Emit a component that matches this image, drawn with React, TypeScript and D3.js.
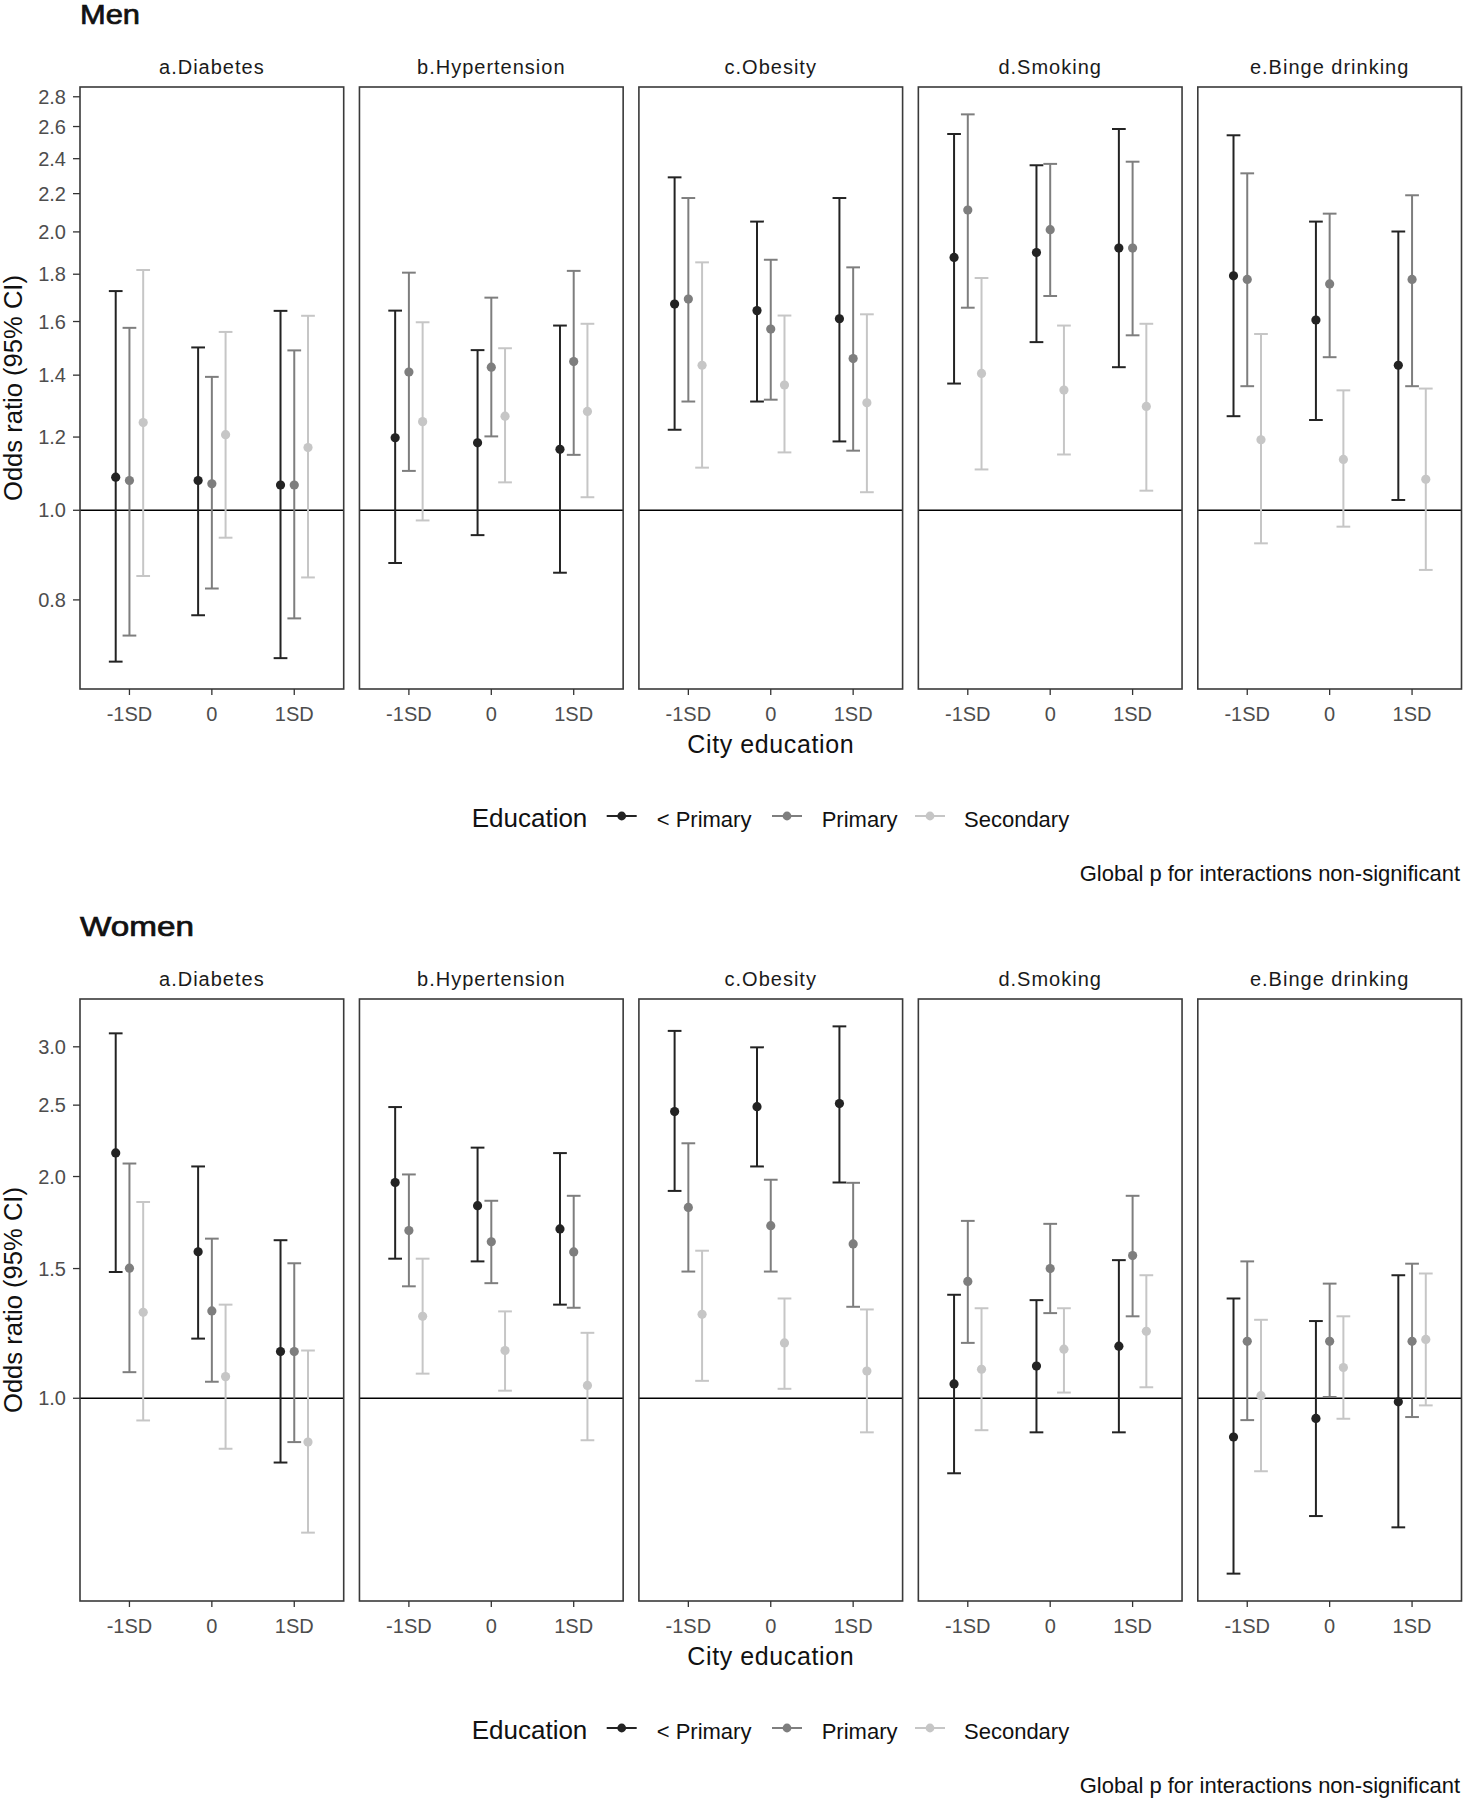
import React from "react";
import * as d3 from "d3";

// ---------- categories ----------
const cityLevels = ["-1SD", "0", "1SD"];
const eduLevels = ["< Primary", "Primary", "Secondary"];
const outcomes = ["a.Diabetes", "b.Hypertension", "c.Obesity", "d.Smoking", "e.Binge drinking"];
const menTicks = [0.8, 1.0, 1.2, 1.4, 1.6, 1.8, 2.0, 2.2, 2.4, 2.6, 2.8];
const womenTicks = [1.0, 1.5, 2.0, 2.5, 3.0];
const captionText = "Global p for interactions non-significant";

// ---------- values: order = outcome x city level (-1SD, 0, 1SD) ----------
// Men, < Primary
const menLowOR = [1.086, 1.077, 1.065, 1.198, 1.183, 1.164, 1.671, 1.644, 1.611, 1.877, 1.900, 1.921, 1.793, 1.606, 1.435];
const menLowLo = [0.686, 0.770, 0.692, 0.877, 0.940, 0.856, 1.222, 1.311, 1.187, 1.371, 1.520, 1.428, 1.264, 1.252, 1.026];
const menLowHi = [1.726, 1.500, 1.643, 1.644, 1.490, 1.584, 2.291, 2.052, 2.176, 2.552, 2.361, 2.584, 2.544, 2.052, 2.002];
// Men, Primary
const menPriOR = [1.077, 1.068, 1.065, 1.411, 1.428, 1.448, 1.692, 1.570, 1.459, 2.112, 2.011, 1.921, 1.777, 1.757, 1.777];
const menPriLo = [0.732, 0.823, 0.764, 1.103, 1.202, 1.148, 1.311, 1.317, 1.160, 1.656, 1.705, 1.546, 1.362, 1.464, 1.362];
const menPriHi = [1.575, 1.394, 1.489, 1.807, 1.698, 1.815, 2.176, 1.866, 1.831, 2.680, 2.369, 2.382, 2.314, 2.093, 2.191];
// Men, Secondary
const menSecOR = [1.244, 1.207, 1.169, 1.247, 1.264, 1.279, 1.435, 1.366, 1.307, 1.406, 1.349, 1.295, 1.192, 1.135, 1.080];
const menSecLo = [0.849, 0.934, 0.846, 0.975, 1.072, 1.033, 1.112, 1.155, 1.046, 1.107, 1.149, 1.050, 0.921, 0.960, 0.862];
const menSecHi = [1.819, 1.559, 1.623, 1.597, 1.497, 1.591, 1.854, 1.624, 1.629, 1.783, 1.584, 1.591, 1.551, 1.348, 1.354];
// Women, < Primary
const womenLowOR = [2.153, 1.581, 1.157, 1.963, 1.826, 1.698, 2.450, 2.488, 2.512, 1.046, 1.106, 1.177, 0.886, 0.939, 0.989];
const womenLowLo = [1.484, 1.205, 0.818, 1.547, 1.534, 1.340, 1.912, 2.064, 1.963, 0.791, 0.899, 0.899, 0.578, 0.692, 0.668];
const womenLowHi = [3.129, 2.064, 1.639, 2.485, 2.189, 2.152, 3.153, 2.995, 3.198, 1.382, 1.359, 1.540, 1.366, 1.273, 1.469];
// Women, Primary
const womenPriOR = [1.502, 1.314, 1.157, 1.689, 1.631, 1.580, 1.816, 1.715, 1.620, 1.441, 1.500, 1.562, 1.195, 1.195, 1.195];
const womenPriLo = [1.085, 1.053, 0.872, 1.419, 1.433, 1.327, 1.486, 1.486, 1.331, 1.189, 1.305, 1.292, 0.934, 1.004, 0.943];
const womenPriHi = [2.083, 1.647, 1.525, 2.013, 1.854, 1.883, 2.219, 1.980, 1.961, 1.741, 1.725, 1.883, 1.534, 1.431, 1.523];
// Women, Secondary
const womenSecOR = [1.308, 1.070, 0.872, 1.292, 1.161, 1.041, 1.300, 1.189, 1.089, 1.095, 1.166, 1.233, 1.008, 1.101, 1.202];
const womenSecLo = [0.933, 0.854, 0.657, 1.080, 1.024, 0.877, 1.056, 1.030, 0.899, 0.905, 1.018, 1.035, 0.796, 0.938, 0.978];
const womenSecHi = [1.847, 1.340, 1.161, 1.547, 1.312, 1.227, 1.586, 1.366, 1.320, 1.325, 1.325, 1.469, 1.278, 1.292, 1.477];

// ---------- styles / layout ----------
const FONT = "'Liberation Sans', Arial, Helvetica, sans-serif";
const colors = ["#232323", "#7e7e7e", "#c6c6c6"];
const W = 1466;
const H = 1800;
const panelLeft0 = 80;
const panelW = 263.7;
const panelGap = 15.75;
const L = {
  title: 24,
  strip: 74,
  top: 87,
  bottom: 689,
  tickLab: 721,
  xTitle: 753,
  legend: 816,
  legendText: 827,
  caption: 881,
};
const legendLayout = {
  titleX: 471.7,
  keys: [606.7, 772, 915],
  labels: [656.7, 821.7, 964],
  keyW: 30,
};

type Row = { o: number; c: number; e: number; or: number; lo: number; hi: number };

function buildRows(ors: number[][], los: number[][], his: number[][]): Row[] {
  const rows: Row[] = [];
  ors.forEach((arr, e) => {
    arr.forEach((v, i) => {
      rows.push({ o: Math.floor(i / 3), c: i % 3, e, or: v, lo: los[e][i], hi: his[e][i] });
    });
  });
  return rows;
}

const menRows = buildRows(
  [menLowOR, menPriOR, menSecOR],
  [menLowLo, menPriLo, menSecLo],
  [menLowHi, menPriHi, menSecHi]
);
const womenRows = buildRows(
  [womenLowOR, womenPriOR, womenSecOR],
  [womenLowLo, womenPriLo, womenSecLo],
  [womenLowHi, womenPriHi, womenSecHi]
);

function Block({ title, titleLen, rows, ticks, dy }: { title: string; titleLen: number; rows: Row[]; ticks: number[]; dy: number }) {
  const lmin = Math.log(d3.min(rows, (r) => r.lo) as number);
  const lmax = Math.log(d3.max(rows, (r) => r.hi) as number);
  const pad = (lmax - lmin) * 0.05;
  const y = d3
    .scaleLog()
    .domain([Math.exp(lmin - pad), Math.exp(lmax + pad)])
    .range([dy + L.bottom, dy + L.top]);
  const panelX = (o: number) => panelLeft0 + o * (panelW + panelGap);
  const xScale = (o: number) =>
    d3.scaleLinear().domain([0.4, 3.6]).range([panelX(o), panelX(o) + panelW]);
  const dodge = 0.5 / 3;
  const capHalf = 0.5 / 3 / 2;
  const fmt = d3.format(".1f");
  const centerX = (panelLeft0 + panelX(4) + panelW) / 2;

  return (
    <g>
      <text
        x={80}
        y={dy + L.title}
        fontFamily={FONT}
        fontSize={27}
        fill="#111"
        stroke="#111"
        strokeWidth={0.7}
        textLength={titleLen}
        lengthAdjust="spacingAndGlyphs"
      >
        {title}
      </text>
      {/* y axis */}
      <text
        transform={`translate(22,${dy + (L.top + L.bottom) / 2}) rotate(-90)`}
        textAnchor="middle"
        fontFamily={FONT}
        fontSize={25}
        fill="#111"
        textLength={226}
        lengthAdjust="spacingAndGlyphs"
      >
        Odds ratio (95% CI)
      </text>
      {ticks.map((t) => (
        <g key={"yt" + t}>
          <line x1={73} x2={80} y1={y(t)} y2={y(t)} stroke="#333" strokeWidth={1.3} />
          <text x={66} y={y(t)} dy="0.36em" textAnchor="end" fontFamily={FONT} fontSize={20} fill="#4d4d4d">
            {fmt(t)}
          </text>
        </g>
      ))}
      {outcomes.map((name, o) => {
        const x = xScale(o);
        const px = panelX(o);
        const pr = rows.filter((r) => r.o === o);
        return (
          <g key={name}>
            <text x={px + panelW / 2} y={dy + L.strip} textAnchor="middle" fontFamily={FONT} fontSize={20} letterSpacing={1} fill="#1a1a1a">
              {name}
            </text>
            <line x1={px} x2={px + panelW} y1={y(1)} y2={y(1)} stroke="#000" strokeWidth={1.5} />
            {pr.map((r) => {
              const cx = r.c + 1 + (r.e - 1) * dodge;
              return (
                <g key={`${r.e}-${r.c}`} stroke={colors[r.e]} strokeWidth={2}>
                  <line x1={x(cx)} x2={x(cx)} y1={y(r.lo)} y2={y(r.hi)} />
                  <line x1={x(cx - capHalf)} x2={x(cx + capHalf)} y1={y(r.lo)} y2={y(r.lo)} />
                  <line x1={x(cx - capHalf)} x2={x(cx + capHalf)} y1={y(r.hi)} y2={y(r.hi)} />
                </g>
              );
            })}
            {pr.map((r) => {
              const cx = r.c + 1 + (r.e - 1) * dodge;
              return <circle key={`p${r.e}-${r.c}`} cx={x(cx)} cy={y(r.or)} r={4.6} fill={colors[r.e]} />;
            })}
            <rect x={px} y={dy + L.top} width={panelW} height={L.bottom - L.top} fill="none" stroke="#3a3a3a" strokeWidth={1.6} />
            {cityLevels.map((lab, c) => (
              <g key={lab}>
                <line x1={x(c + 1)} x2={x(c + 1)} y1={dy + L.bottom} y2={dy + L.bottom + 6} stroke="#333" strokeWidth={1.3} />
                <text x={x(c + 1)} y={dy + L.tickLab} textAnchor="middle" fontFamily={FONT} fontSize={20} fill="#4d4d4d">
                  {lab}
                </text>
              </g>
            ))}
          </g>
        );
      })}
      <text x={centerX} y={dy + L.xTitle} textAnchor="middle" fontFamily={FONT} fontSize={25} letterSpacing={0.6} fill="#111">
        City education
      </text>
      {/* legend */}
      <text x={legendLayout.titleX} y={dy + L.legendText} fontFamily={FONT} fontSize={26} fill="#111">
        Education
      </text>
      {eduLevels.map((lab, e) => (
        <g key={lab}>
          <line
            x1={legendLayout.keys[e]}
            x2={legendLayout.keys[e] + legendLayout.keyW}
            y1={dy + L.legend}
            y2={dy + L.legend}
            stroke={colors[e]}
            strokeWidth={2}
          />
          <circle cx={legendLayout.keys[e] + legendLayout.keyW / 2} cy={dy + L.legend} r={4.4} fill={colors[e]} />
          <text x={legendLayout.labels[e]} y={dy + L.legendText} fontFamily={FONT} fontSize={22} fill="#111">
            {lab}
          </text>
        </g>
      ))}
      <text x={1460} y={dy + L.caption} textAnchor="end" fontFamily={FONT} fontSize={22} fill="#111">
        {captionText}
      </text>
    </g>
  );
}

export default function App() {
  return (
    <svg
      width={W}
      height={H}
      viewBox={`0 0 ${W} ${H}`}
      style={{ position: "absolute", left: 0, top: 0, background: "#fff" }}
    >
      <rect x={0} y={0} width={W} height={H} fill="#fff" />
      <Block title="Men" titleLen={60} rows={menRows} ticks={menTicks} dy={0} />
      <Block title="Women" titleLen={114} rows={womenRows} ticks={womenTicks} dy={912} />
    </svg>
  );
}
